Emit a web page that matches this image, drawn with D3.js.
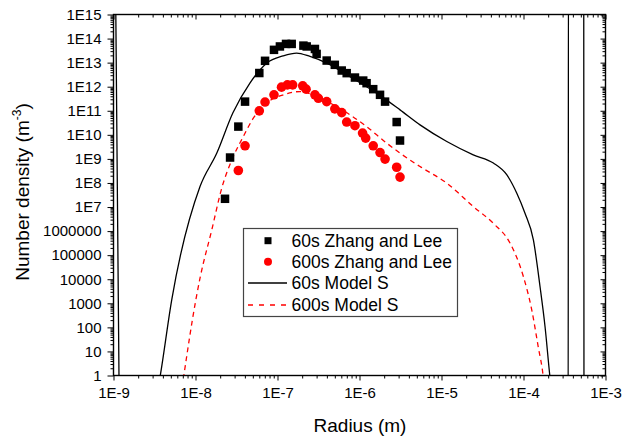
<!DOCTYPE html>
<html>
<head>
<meta charset="utf-8">
<script src="https://cdn.jsdelivr.net/npm/d3@7"></script>
<style>
  html, body { margin: 0; padding: 0; background: #fff; }
  svg { display: block; font-family: "Liberation Sans", Arial, sans-serif; }
</style>
</head>
<body>
<svg id="chart" width="622" height="441"></svg>
<script>
// Measured particle size distributions (Zhang and Lee), radius in m, density in m^-3
const zl60Radius = [2.29e-8, 2.64e-8, 3.33e-8, 4.02e-8, 6.0e-8, 7.05e-8, 9.06e-8, 1.07e-7, 1.27e-7, 1.49e-7,
  2.07e-7, 2.27e-7, 2.86e-7, 3.0e-7, 3.98e-7, 5.0e-7, 6.07e-7, 6.98e-7, 8.8e-7, 1.11e-6,
  1.22e-6, 1.47e-6, 1.78e-6, 2.05e-6, 2.84e-6, 3.12e-6];
const zl60Density = [2.2e7, 1.14e9, 2.2e10, 2.4e11, 3.7e12, 1.19e13, 3.4e13, 4.7e13, 6.0e13, 6.0e13,
  5.1e13, 4.7e13, 3.7e13, 2.3e13, 1.22e13, 8.1e12, 4.7e12, 3.66e12, 2.4e12, 1.8e12,
  1.4e12, 7.9e11, 4.6e11, 2.4e11, 3.4e10, 5.8e9];

const zl600Radius = [3.33e-8, 4.02e-8, 6.0e-8, 7.05e-8, 9.06e-8, 1.12e-7, 1.32e-7, 1.53e-7, 2.03e-7, 2.23e-7,
  2.86e-7, 3.15e-7, 3.98e-7, 5.0e-7, 6.07e-7, 6.98e-7, 8.8e-7, 1.09e-6, 1.19e-6, 1.47e-6,
  1.78e-6, 2.05e-6, 2.84e-6, 3.12e-6];
const zl600Density = [3.3e8, 3.5e9, 9.9e10, 2.3e11, 4.6e11, 9.6e11, 1.19e12, 1.19e12, 1.09e12, 7.9e11,
  4.6e11, 3.3e11, 2.4e11, 1.2e11, 8.4e10, 3.4e10, 2.4e10, 1.18e10, 7.3e9, 3.5e9,
  1.84e9, 9.8e8, 4.5e8, 1.75e8];

// Model S results (curves leave the plotted range at both ends)
const model60Radius = [1.055e-9, 1.18e-9, 2.5e-9, 3.69e-9, 5.13e-9, 1.135e-8, 1.82e-8, 2.86e-8, 4.63e-8, 7.38e-8,
  1.17e-7, 1.71e-7, 2.49e-7, 3.98e-7, 7.66e-7, 1.62e-6, 3.12e-6, 5.47e-6, 1.16e-5, 2.44e-5,
  4.29e-5, 6.24e-5, 8.26e-5, 1.04e-4, 1.32e-4, 1.59e-4, 1.83e-4, 2.1e-4, 2.8e-4, 3.50e-4,
  3.54e-4, 5.42e-4, 5.47e-4];
const model60Density = [1e17, 1e-2, 1e-3, 0.85, 1.4e3, 7.1e7, 1.74e9, 8.2e10, 1.45e12, 9.5e12,
  1.9e13, 2.5e13, 1.8e13, 9.5e12, 2.6e12, 5.4e11, 1.09e11, 2.6e10, 5.3e9, 1.48e9,
  6.7e8, 2.2e8, 3.8e7, 5.6e6, 4.3e5, 5.0e3, 109, 0.9, 1e-3, 1e-4,
  1e20, 1e20, 1e-4];

const model600Radius = [7.1e-9, 1.01e-8, 1.135e-8, 1.58e-8, 2.09e-8, 2.89e-8, 3.83e-8, 5.07e-8, 7.38e-8, 1.18e-7,
  1.88e-7, 3.0e-7, 6.12e-7, 1.22e-6, 2.15e-6, 3.12e-6, 5.47e-6, 1.16e-5, 2.44e-5, 4.29e-5,
  6.84e-5, 9.96e-5, 1.26e-4, 1.51e-4, 1.74e-4, 1.8e-4];
const model600Density = [0.7, 1.4e3, 1.1e4, 1.13e6, 6.1e7, 1.25e9, 8.5e9, 4.9e10, 2.1e11, 4.6e11,
  6.3e11, 3.9e11, 1.1e11, 2.2e10, 4.5e9, 1.74e9, 4.8e8, 9.8e7, 1.05e7, 2.1e6,
  3.2e5, 1.3e4, 537, 16, 0.9, 0.3];

const xTickValues = [1e-9, 1e-8, 1e-7, 1e-6, 1e-5, 1e-4, 1e-3];
const xTickLabels = ["1E-9", "1E-8", "1E-7", "1E-6", "1E-5", "1E-4", "1E-3"];
const yTickValues = [1, 10, 100, 1e3, 1e4, 1e5, 1e6, 1e7, 1e8, 1e9, 1e10, 1e11, 1e12, 1e13, 1e14, 1e15];
const yTickLabels = ["1", "10", "100", "1000", "10000", "100000", "1000000", "1E7", "1E8", "1E9",
  "1E10", "1E11", "1E12", "1E13", "1E14", "1E15"];

const legendLabels = ["60s Zhang and Lee", "600s Zhang and Lee", "60s Model S", "600s Model S"];

const svg = d3.select("#chart");
const L = 113.5, R = 605.5, T = 14.5, B = 375.5;

const x = d3.scaleLog().domain([1e-9, 1e-3]).range([L, R]);
const y = d3.scaleLog().domain([1, 1e15]).range([B, T]);

// minor ticks: 2..9 within each decade
function minors(lo, hi) {
  const out = [];
  for (let e = lo; e < hi; e++) for (let m = 2; m <= 9; m++) out.push(m * Math.pow(10, e));
  return out;
}
const xMinor = minors(-9, -3);
const yMinor = minors(0, 15);

svg.append("defs").append("clipPath").attr("id", "plotClip")
  .append("rect").attr("x", L).attr("y", T).attr("width", R - L).attr("height", B - T);

const axisColor = "#000";
function styleAxis(g) {
  g.select(".domain").remove();
  g.selectAll("line").attr("stroke", axisColor).attr("stroke-width", 1);
  g.selectAll("text").attr("fill", "#000").attr("font-size", 15)
    .attr("font-family", "'Liberation Sans', Arial, sans-serif");
}

// bottom axis (outward ticks, labelled)
svg.append("g").attr("transform", `translate(0,${B})`)
  .call(d3.axisBottom(x).tickValues(xMinor).tickSize(3).tickFormat(""))
  .call(styleAxis);
svg.append("g").attr("transform", `translate(0,${B})`)
  .call(d3.axisBottom(x).tickValues(xTickValues).tickSize(5).tickPadding(7)
    .tickFormat((d, i) => xTickLabels[i]))
  .call(styleAxis);

// top axis (inward ticks)
svg.append("g").attr("transform", `translate(0,${T})`)
  .call(d3.axisBottom(x).tickValues(xMinor).tickSize(3).tickFormat(""))
  .call(styleAxis);
svg.append("g").attr("transform", `translate(0,${T})`)
  .call(d3.axisBottom(x).tickValues(xTickValues).tickSize(5).tickFormat(""))
  .call(styleAxis);

// left axis (outward ticks, labelled)
svg.append("g").attr("transform", `translate(${L},0)`)
  .call(d3.axisLeft(y).tickValues(yMinor).tickSize(3).tickFormat(""))
  .call(styleAxis);
svg.append("g").attr("transform", `translate(${L},0)`)
  .call(d3.axisLeft(y).tickValues(yTickValues).tickSize(6).tickPadding(6)
    .tickFormat((d, i) => yTickLabels[i]))
  .call(styleAxis);

// right axis (inward ticks)
svg.append("g").attr("transform", `translate(${R},0)`)
  .call(d3.axisLeft(y).tickValues(yMinor).tickSize(3).tickFormat(""))
  .call(styleAxis);
svg.append("g").attr("transform", `translate(${R},0)`)
  .call(d3.axisLeft(y).tickValues(yTickValues).tickSize(5).tickFormat(""))
  .call(styleAxis);

// model curves
const line = d3.line().x(d => x(d[0])).y(d => y(d[1])).curve(d3.curveMonotoneX);
const plot = svg.append("g").attr("clip-path", "url(#plotClip)");

plot.append("path")
  .datum(model60Radius.map((r, i) => [r, model60Density[i]]))
  .attr("d", line).attr("fill", "none").attr("stroke", "#000").attr("stroke-width", 1.3);

plot.append("path")
  .datum(model600Radius.map((r, i) => [r, model600Density[i]]))
  .attr("d", line).attr("fill", "none").attr("stroke", "#ff0000").attr("stroke-width", 1.3)
  .attr("stroke-dasharray", "5,4");

// measured points
const sq = 8.5;
svg.append("g").selectAll("rect")
  .data(zl60Radius.map((r, i) => [r, zl60Density[i]]))
  .join("rect")
  .attr("x", d => x(d[0]) - sq / 2).attr("y", d => y(d[1]) - sq / 2)
  .attr("width", sq).attr("height", sq).attr("fill", "#000");

svg.append("g").selectAll("circle")
  .data(zl600Radius.map((r, i) => [r, zl600Density[i]]))
  .join("circle")
  .attr("cx", d => x(d[0])).attr("cy", d => y(d[1])).attr("r", 4.8).attr("fill", "#ff0000");

// frame
svg.append("rect").attr("x", L).attr("y", T).attr("width", R - L).attr("height", B - T)
  .attr("fill", "none").attr("stroke", "#000").attr("stroke-width", 1.4);

// legend
const lg = svg.append("g");
lg.append("rect").attr("x", 243.5).attr("y", 228.5).attr("width", 214).attr("height", 88)
  .attr("fill", "#fff").attr("stroke", "#444").attr("stroke-width", 1.2);
const rowY = [240.7, 261.7, 283, 305];
const symX = 268;
lg.append("rect").attr("x", symX - 3.5).attr("y", rowY[0] - 3.5).attr("width", 7).attr("height", 7).attr("fill", "#000");
lg.append("circle").attr("cx", symX).attr("cy", rowY[1]).attr("r", 4).attr("fill", "#ff0000");
lg.append("line").attr("x1", 248).attr("x2", 287).attr("y1", rowY[2]).attr("y2", rowY[2])
  .attr("stroke", "#000").attr("stroke-width", 1.3);
lg.append("line").attr("x1", 248).attr("x2", 287).attr("y1", rowY[3]).attr("y2", rowY[3])
  .attr("stroke", "#ff0000").attr("stroke-width", 1.3).attr("stroke-dasharray", "5,6");
lg.selectAll("text.lbl").data(legendLabels).join("text").attr("class", "lbl")
  .attr("x", 291.5).attr("y", (d, i) => rowY[i] + 6.3)
  .attr("font-size", 17.5).attr("fill", "#000").text(d => d);

// axis titles
svg.append("text").attr("x", 360).attr("y", 432).attr("text-anchor", "middle")
  .attr("font-size", 19).attr("fill", "#000").text("Radius (m)");

const yt = svg.append("text").attr("transform", "translate(29,192) rotate(-90)")
  .attr("text-anchor", "middle").attr("font-size", 19).attr("fill", "#000");
yt.append("tspan").text("Number density (m");
yt.append("tspan").attr("font-size", 12).attr("dy", -8).text("-3");
yt.append("tspan").attr("dy", 8).text(")");
</script>
</body>
</html>
